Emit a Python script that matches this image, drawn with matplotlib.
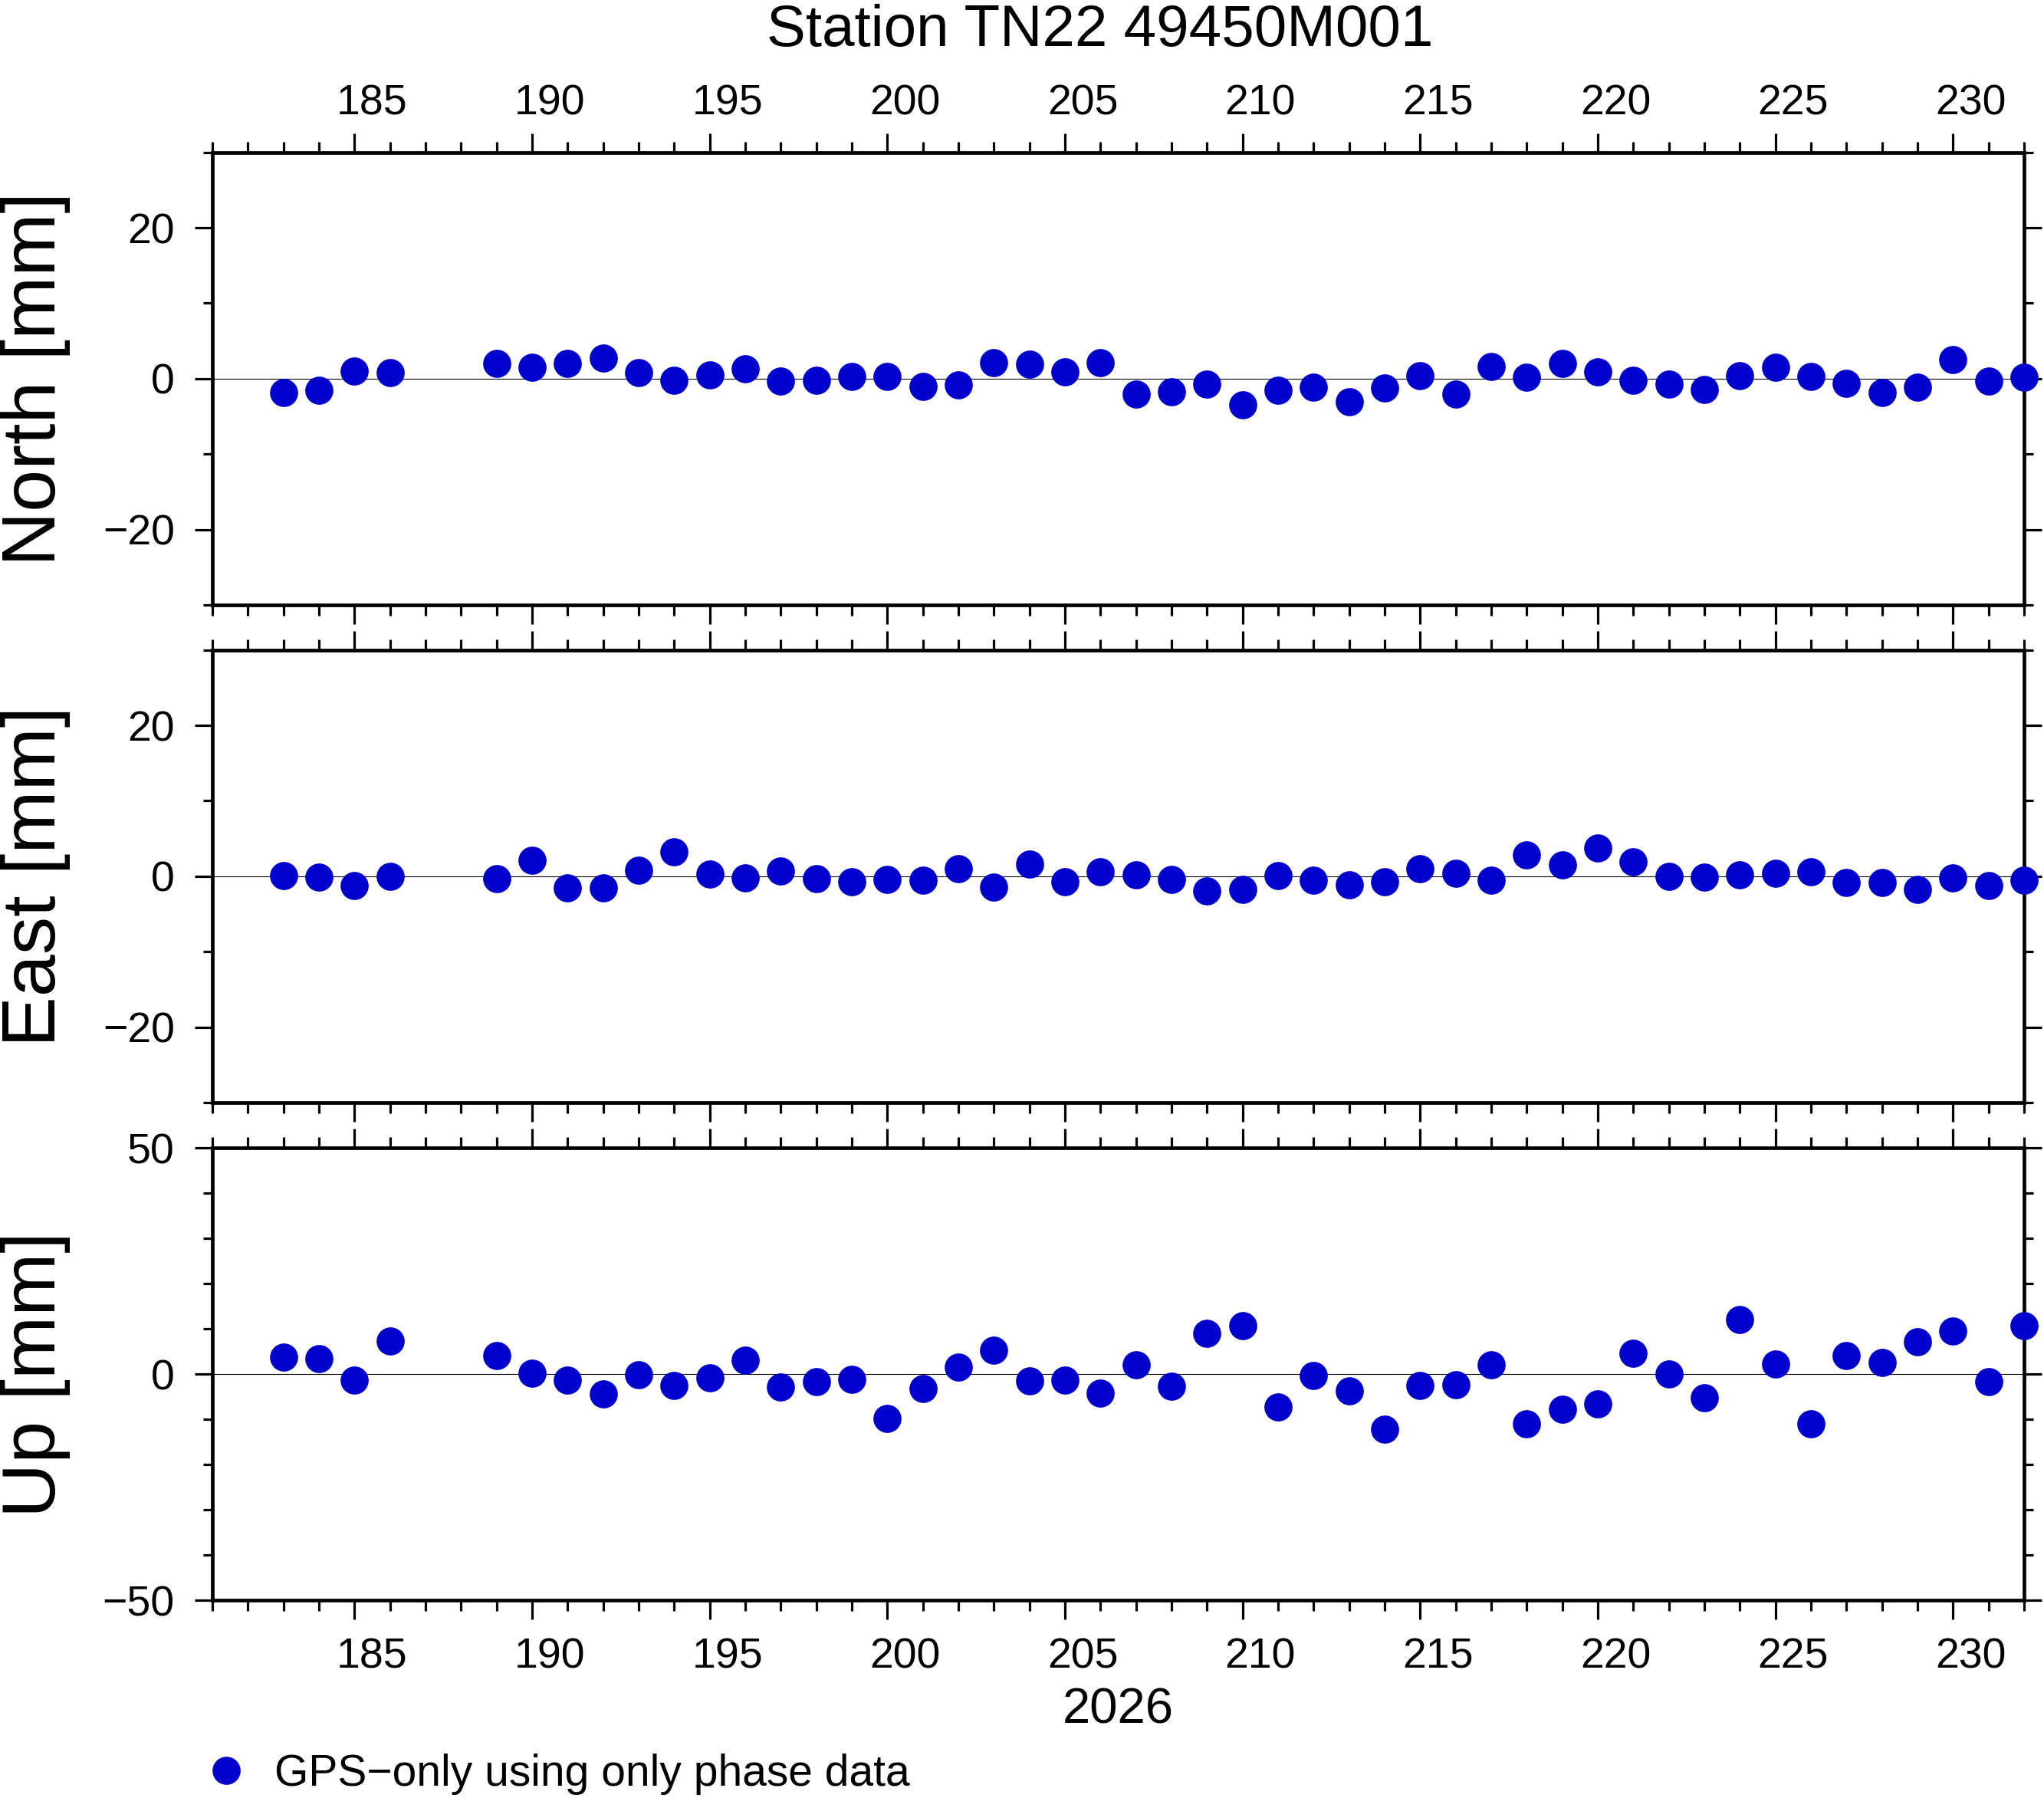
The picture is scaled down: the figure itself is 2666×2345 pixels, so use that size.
import matplotlib
matplotlib.use("Agg")
import matplotlib.pyplot as plt
from matplotlib.ticker import MultipleLocator, FixedLocator
from matplotlib.transforms import ScaledTranslation

plt.rcParams['font.family'] = ['Liberation Sans', 'DejaVu Sans']

# ---------------- data ----------------
days = [183, 184, 185, 186,
        189, 190, 191, 192, 193, 194, 195, 196, 197, 198, 199, 200, 201, 202,
        203, 204, 205, 206, 207, 208, 209, 210, 211, 212, 213, 214, 215, 216,
        217, 218, 219, 220, 221, 222, 223, 224, 225, 226, 227, 228, 229, 230,
        231, 232]

north = [-1.85, -1.5, 1.0, 0.8,
         2.0, 1.5, 2.0, 2.7, 0.8, -0.2, 0.5, 1.3, -0.3, -0.2, 0.3, 0.3, -1.0, -0.8,
         2.1, 1.9, 0.9, 2.1, -2.0, -1.7, -0.7, -3.5, -1.5, -1.1, -3.1, -1.2, 0.4, -2.0,
         1.6, 0.2, 2.0, 0.9, -0.2, -0.7, -1.4, 0.4, 1.5, 0.3, -0.6, -1.85, -1.1, 2.5,
         -0.3, 0.2]

east = [0.1, -0.1, -1.2, 0.0,
        -0.3, 2.1, -1.5, -1.5, 0.8, 3.2, 0.3, -0.2, 0.7, -0.3, -0.7, -0.4, -0.5, 1.0,
        -1.4, 1.6, -0.7, 0.6, 0.2, -0.4, -1.9, -1.7, 0.1, -0.5, -1.1, -0.7, 1.0, 0.4,
        -0.5, 2.8, 1.5, 3.7, 1.9, 0.0, -0.1, 0.2, 0.4, 0.6, -0.8, -0.8, -1.7, -0.2,
        -1.2, -0.5]

up = [3.8, 3.4, -1.4, 7.3,
      4.1, 0.2, -1.4, -4.4, -0.2, -2.5, -0.8, 3.1, -2.9, -1.7, -1.2, -9.8, -3.2, 1.5,
      5.3, -1.5, -1.4, -4.2, 2.1, -2.7, 9.0, 10.7, -7.2, -0.3, -3.7, -12.1, -2.5, -2.4,
      2.1, -11.0, -7.8, -6.6, 4.6, 0.0, -5.3, 12.0, 2.2, -11.0, 4.1, 2.5, 7.1, 9.5,
      -1.7, 10.7]

panel_labels = ["North [mm]", "East [mm]", "Up [mm]"]
panel_limits = [(-30, 30), (-30, 30), (-50, 50)]
panel_major = [20, 20, 50]
panel_minor = [10, 10, 10]
x_limits = (181, 232)
x_major_ticks = [185, 190, 195, 200, 205, 210, 215, 220, 225, 230]
title = "Station TN22 49450M001"
year_label = "2026"
legend_label = "GPS\u2212only using only phase data"

# ---------------- figure ----------------
W, H = 2666, 2345
dpi = 100
fig = plt.figure(figsize=(W / dpi, H / dpi), dpi=dpi)

left = 277.0 / W
right = 2640.0 / W
tops = [198.7, 847.7, 1497.0]
panel_h = 590.3

color = '#0000CC'
ms = 26.4
tick_fs = 40
spine_w = 3.4
tick_w = 2.3

axes = []
series = [north, east, up]
for i in range(3):
    bottom = 1 - (tops[i] + panel_h) / H
    ax = fig.add_axes([left, bottom, right - left, panel_h / H])
    axes.append(ax)
    ax.axhline(0, color='black', lw=0.8, zorder=1)
    line, = ax.plot(days, series[i], 'o', ms=ms, color=color, mec='none',
                    clip_on=False, zorder=3, label=legend_label)
    ax.set_xlim(*x_limits)
    ax.set_ylim(*panel_limits[i])
    ax.xaxis.set_major_locator(FixedLocator(x_major_ticks))
    ax.xaxis.set_minor_locator(MultipleLocator(1))
    ax.yaxis.set_major_locator(MultipleLocator(panel_major[i]))
    ax.yaxis.set_minor_locator(MultipleLocator(panel_minor[i]))
    for s in ax.spines.values():
        s.set_linewidth(spine_w)
    ax.tick_params(axis='both', which='both', direction='out', width=tick_w,
                   top=True, bottom=True, left=True, right=True,
                   labelsize=tick_fs, labeltop=False, labelbottom=False,
                   labelright=False, labelleft=True)
    ax.tick_params(axis='x', which='major', length=18)
    ax.tick_params(axis='x', which='minor', length=10)
    ax.tick_params(axis='y', which='major', length=16.5, pad=19)
    ax.tick_params(axis='y', which='minor', length=8.6)
    fig.text(46.5 / W, 1 - (tops[i] + panel_h / 2) / H, panel_labels[i],
             rotation=90, ha='center', va='center', fontsize=71)

axes[0].tick_params(axis='x', which='major', labeltop=True, pad=9)
axes[2].tick_params(axis='x', which='major', labelbottom=True, pad=17)

# shift day labels to the middle of the day interval
day_w_in = (right - left) * W / dpi / (x_limits[1] - x_limits[0])
offset = ScaledTranslation(0.5 * day_w_in, 0, fig.dpi_scale_trans)
for lab in axes[0].xaxis.get_majorticklabels() + axes[2].xaxis.get_majorticklabels():
    lab.set_transform(lab.get_transform() + offset)

axes[2].set_xlabel(year_label, fontsize=47, labelpad=9)

fig.text(1435 / W, 1 - 60 / H, title, ha='center', va='baseline', fontsize=55)

fig.legend(handles=[line], loc='center left',
           bbox_to_anchor=(266.5 / W, 1 - 2314 / H), frameon=False,
           fontsize=41, borderaxespad=0, borderpad=0, handlelength=1.0,
           handletextpad=0.6, markerscale=1.0)

fig.savefig("out.png", dpi=dpi)
